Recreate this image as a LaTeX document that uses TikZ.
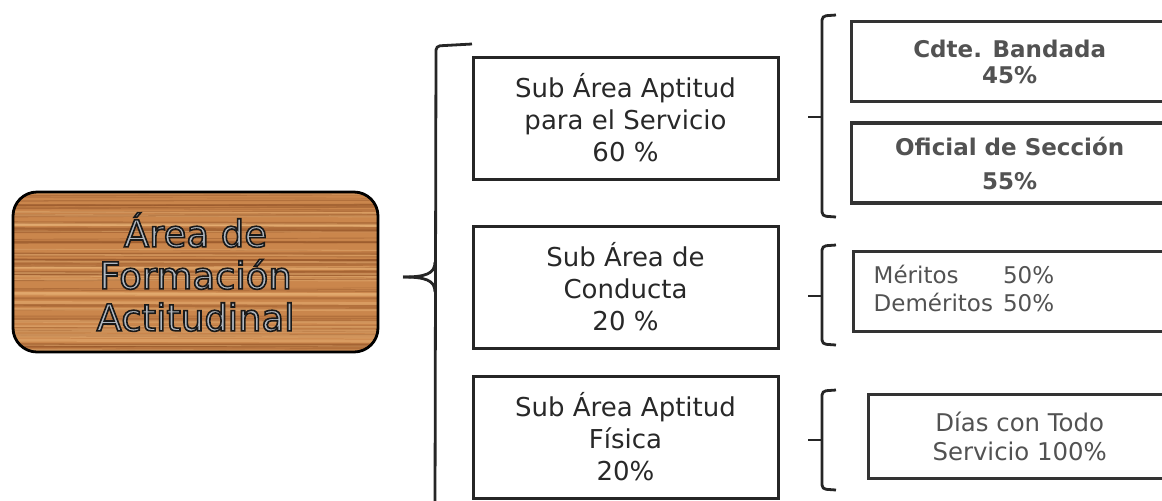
\documentclass[tikz,border=0pt]{standalone}
\usepackage{fontspec}
\setmainfont{DejaVu Sans}
\usetikzlibrary{positioning,calc}

\definecolor{woodbase}{RGB}{202,134,76}
\definecolor{woodgrain}{RGB}{150,86,42}
\definecolor{woodlight}{RGB}{232,178,118}
\definecolor{woodtext}{RGB}{176,184,192}
\definecolor{inkgray}{RGB}{40,40,40}
\definecolor{softgray}{RGB}{82,82,82}
% outlined letters (fill + stroke)
\newcommand{\outlined}[1]{\special{pdf:literal direct 2 Tr 0.8 w 0.1 0.1 0.1 RG}#1\special{pdf:literal direct 0 Tr}}

\begin{document}
\begin{tikzpicture}[x=0.5pt, y=-0.5pt,
		woodbox/.style={rectangle, rounded corners=12pt, draw=black, line width=1.4pt, fill=woodbase, minimum width=182.5pt, minimum height=80pt, align=center, text=woodtext, font=\fontsize{18.5}{21}\selectfont,
			path picture={
				\pgfmathsetseed{42}
				\foreach \k in {1,...,80}{
					\pgfmathsetmacro{\ff}{rnd}
					\pgfmathsetmacro{\dy}{rnd*3-1.5}
					\pgfmathsetmacro{\lw}{0.2+rnd*0.9}
					\draw[woodgrain, line width=\lw pt, opacity=0.45, sharp corners] ($(path picture bounding box.north west)!\ff!(path picture bounding box.south west)$) -- ($(path picture bounding box.north east)!\ff!(path picture bounding box.south east)+(0,\dy)$);
				}
				\foreach \k in {1,...,35}{
					\pgfmathsetmacro{\ff}{rnd}
					\pgfmathsetmacro{\lw}{0.3+rnd*1.2}
					\draw[woodlight, line width=\lw pt, opacity=0.5, sharp corners] ($(path picture bounding box.north west)!\ff!(path picture bounding box.south west)$) -- ($(path picture bounding box.north east)!\ff!(path picture bounding box.south east)+(0,1)$);
				}
			}},
		subbox/.style={rectangle, draw=black!85, line width=1.5pt, minimum width=152.5pt, minimum height=61pt, align=center, text=inkgray, font=\fontsize{13}{16}\selectfont},
		itembox/.style={rectangle, draw=black!80, line width=1.7pt, minimum height=40pt, align=center, text=softgray, font=\bfseries\fontsize{11.5}{13}\selectfont},
		bracket/.style={draw=black!85, line width=1.4pt, rounded corners=2pt}
	]
	\useasboundingbox (0,0) rectangle (1162,500);
	\clip (0,0) rectangle (1162,500);

	% main area
	\node[woodbox] (area) at (195.5,272) {\outlined{Área de\\Formación\\Actitudinal}};

	% sub areas
	\node[subbox] (servicio) at (625.5,118) {Sub Área Aptitud\\para el Servicio\\60 \%};
	\node[subbox] (conducta) [below=22pt of servicio] {Sub Área de\\Conducta\\20 \%};
	\node[subbox] (fisica) [below=12.5pt of conducta] {Sub Área Aptitud\\Física\\20\%};

	% items
	\node[itembox, minimum width=158pt, anchor=north west] (bandada) at (850,20) {Cdte. Bandada\\45\%};
	\node[itembox, minimum width=158pt] (seccion) [below=9pt of bandada] {Oficial de Sección\\[4pt]55\%};
	\node[itembox, font=\fontsize{11.5}{14}\selectfont, align=left, text width=138pt, inner xsep=10pt, anchor=north west] (meritos) at (852,250) {\begin{tabular}{@{}l@{\hspace{5pt}}l@{}}Méritos & 50\%\\Deméritos & 50\%\end{tabular}};
	\node[itembox, font=\fontsize{12.2}{14.5}\selectfont, minimum width=151pt, minimum height=42pt, anchor=north west] (dias) at (867,393) {Días con Todo\\Servicio 100\%};

	% brackets
	\coordinate (maintip) at (403,277);
	\coordinate (tipservicio) at (808,117);
	\coordinate (tipconducta) at (808,296);
	\coordinate (tipfisica) at (808,440);
	\draw[bracket] (472,44) -- (436,46) -- (435,510);
	\draw[bracket] (maintip) .. controls (425,277) and (435,274) .. (435,262);
	\draw[bracket] (maintip) .. controls (425,277) and (435,280) .. (435,292);
	\draw[bracket] (836,15) -- (822,16) -- (822,216) -- (836,217);
	\draw[bracket] (tipservicio) -- (822,117);
	\draw[bracket] (836,245) -- (822,246) -- (822,344) -- (836,345);
	\draw[bracket] (tipconducta) -- (822,296);
	\draw[bracket] (836,390) -- (822,391) -- (822,489) -- (836,490);
	\draw[bracket] (tipfisica) -- (822,440);
\end{tikzpicture}
\end{document}
